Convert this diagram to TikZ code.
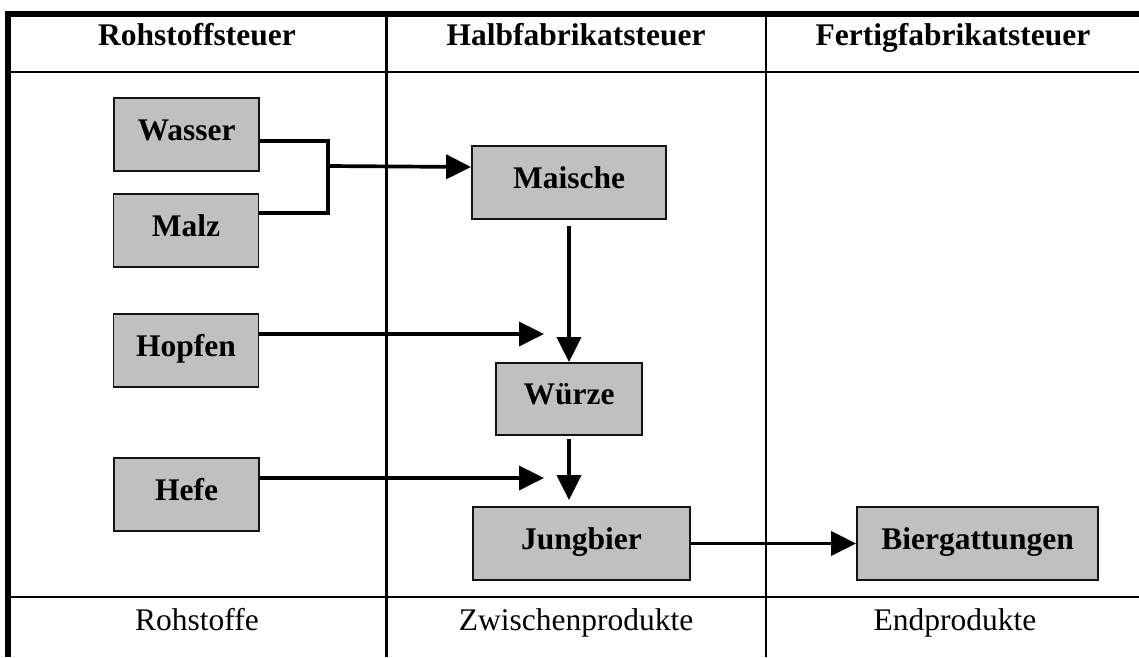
\documentclass[tikz,border=0pt]{standalone}
\usepackage{fontspec}
\setmainfont{Liberation Serif}
\usetikzlibrary{arrows.meta,calc}
\definecolor{boxgray}{HTML}{C0C0C0}
\definecolor{boxline}{HTML}{141414}
\begin{document}
\begin{tikzpicture}[x=1pt,y=-1pt,
  every node/.style={font=\fontsize{31.5}{36}\selectfont},
  stage/.style={draw=boxline,line width=1.8pt,fill=boxgray,rectangle,
    minimum height=73pt,text height=21pt,text depth=10pt,inner sep=0pt,
    font=\fontsize{31.5}{36}\selectfont\bfseries},
  heading/.style={anchor=base,font=\fontsize{31.5}{36}\selectfont\bfseries},
  footing/.style={anchor=base},
  frame/.style={line width=5.5pt},
  rule/.style={line width=2.4pt},
  conn/.style={line width=3.7pt},
  flow/.style={conn,-{Triangle[length=25pt,width=24pt]}}]
\useasboundingbox (0,0) rectangle (1139,657);

% table frame
\draw[rule] (8,72) -- (1139,72);
\draw[rule] (8,597) -- (1139,597);
\draw[rule] (386.5,14) -- (386.5,657);
\draw[rule] (766,14) -- (766,657);
\draw[frame] (5,14) -- (1139,14);
\draw[frame] (8,11) -- (8,657);

% column headings and footers
\node[heading] (h1) at (197,45) {Rohstoffsteuer};
\node[heading] (h2) at (576,45) {Halbfabrikatsteuer};
\node[heading] (h3) at (953,45) {Fertigfabrikatsteuer};
\node[footing] (f1) at (197,630) {Rohstoffe};
\node[footing] (f2) at (576,630) {Zwischenprodukte};
\node[footing] (f3) at (955,630) {Endprodukte};

% process stages
\node[stage,minimum width=145pt] (wasser) at (186.5,134.5) {Wasser};
\node[stage,minimum width=145pt] (malz) at (186,230.5) {Malz};
\node[stage,minimum width=145pt] (hopfen) at (186,350.5) {Hopfen};
\node[stage,minimum width=145pt] (hefe) at (186.5,494.5) {Hefe};
\node[stage,minimum width=194pt] (maische) at (569,182.5) {Maische};
\node[stage,minimum width=146pt,minimum height=72pt] (wuerze) at (569,399) {Würze};
\node[stage,minimum width=217pt] (jungbier) at (581.5,543.5) {Jungbier};
\node[stage,minimum width=241pt] (bier) at (977.5,543.5) {Biergattungen};

% free ends and junctions
\coordinate (join) at (328,166);
\coordinate (hopfenend) at (544,334);
\coordinate (hefeend) at (544,478);

% connectors
\draw[conn] ([yshift=-6.5pt]wasser.east) -| (join) |- ([yshift=17.5pt]malz.east);
\draw[flow] (join) -- ([yshift=15.5pt]maische.west);
\draw[flow] ([yshift=-6pt]maische.south) -- (wuerze.north);
\draw[flow] ([yshift=16.5pt]hopfen.east) -- (hopfenend);
\draw[flow] ([yshift=-3pt]wuerze.south) -- ([yshift=6pt]wuerze.south |- jungbier.north);
\draw[flow] ([yshift=16.5pt]hefe.east) -- (hefeend);
\draw[flow] (jungbier.east) -- (bier.west);
\end{tikzpicture}
\end{document}
